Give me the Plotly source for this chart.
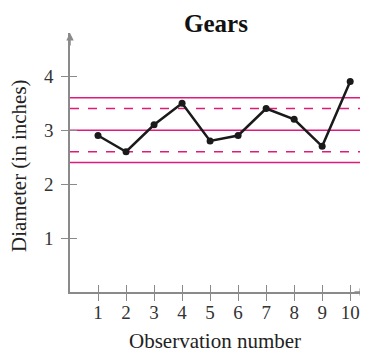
import plotly.graph_objects as go

# observations
obs = [1, 2, 3, 4, 5, 6, 7, 8, 9, 10]
diameter = [2.9, 2.6, 3.1, 3.5, 2.8, 2.9, 3.4, 3.2, 2.7, 3.9]

# reference lines (solid / dashed)
solid_levels = [3.6, 3.0, 2.4]
dashed_levels = [3.4, 2.6]
line_span = [0, 10.45]

y_ticks = [1, 2, 3, 4]

PINK = '#e0197d'
AXIS = '#8a8a8a'
SERIF = 'Liberation Serif, Times New Roman, serif'

# the page body has an 8px margin, so the figure is 8px smaller
OFF = 8
FW, FH = 368 - OFF, 353 - OFF
# plot area in page pixels
PL, PR, PT, PB = 70, 367, 33, 292
W, H = PR - PL, PB - PT


def px(x, y):
    # page pixel position -> paper coords
    return (x - PL) / W, (PB - y) / H


fig = go.Figure()

for lv in solid_levels:
    fig.add_trace(go.Scatter(x=line_span, y=[lv, lv], mode='lines',
                             line=dict(color=PINK, width=1.5), hoverinfo='skip'))
for lv in dashed_levels:
    fig.add_trace(go.Scatter(x=line_span, y=[lv, lv], mode='lines',
                             line=dict(color=PINK, width=1.5, dash='dash'), hoverinfo='skip'))

fig.add_trace(go.Scatter(x=obs, y=diameter, mode='lines+markers',
                         line=dict(color='#1a1a1a', width=2.5),
                         marker=dict(color='#1a1a1a', size=7)))

# invisible trace to bind the overlay axes
fig.add_trace(go.Scatter(x=[None], y=[None], xaxis='x2', yaxis='y2', showlegend=False))

axis_common = dict(showgrid=False, zeroline=False, linecolor=AXIS, linewidth=1.5,
                   tickcolor=AXIS, tickwidth=1.2, ticklen=7, automargin=False,
                   tickfont=dict(family=SERIF, size=19, color='#333'))
overlay_common = dict(showline=False, showticklabels=False, showgrid=False,
                      zeroline=False, tickcolor=AXIS, tickwidth=1.2, ticklen=7,
                      ticks='inside', automargin=False)

tx, ty = px(216, 8.5)
xx, xy = px(215, 341)
yx, yy = px(19, 166)
mid = dict(xref='paper', yref='paper', xanchor='center', yanchor='middle', showarrow=False)

fig.update_layout(
    width=FW, height=FH,
    margin=dict(l=PL - OFF, r=368 - PR, t=PT - OFF, b=353 - PB, autoexpand=False),
    paper_bgcolor='white', plot_bgcolor='white',
    showlegend=False,
    xaxis=dict(range=[0, 10.6], tickvals=obs, ticks='outside', showline=True,
               anchor='y', ticklabelstandoff=-5, **axis_common),
    yaxis=dict(range=[0, 4.8], tickvals=y_ticks, ticks='outside', showline=True,
               anchor='x', ticklabelstandoff=4, **axis_common),
    xaxis2=dict(range=[0, 10.6], tickvals=obs, overlaying='x', anchor='y2',
                side='bottom', **overlay_common),
    yaxis2=dict(range=[0, 4.8], tickvals=y_ticks, overlaying='y', anchor='x2',
                side='left', **overlay_common),
    annotations=[
        dict(text='<b>Gears</b>', x=tx, y=ty, xref='paper', yref='paper',
             xanchor='center', yanchor='top', showarrow=False, borderpad=0,
             font=dict(family=SERIF, size=25, color='#111')),
        dict(text='Observation number', x=xx, y=xy,
             font=dict(family=SERIF, size=21, color='#222'), **mid),
        dict(text='Diameter (in inches)', x=yx, y=yy, textangle=-90,
             font=dict(family=SERIF, size=21, color='#222'), **mid),
        dict(x=0, y=4.8, xref='x', yref='y', ax=0, ay=14, text='', showarrow=True,
             arrowhead=2, arrowsize=1, arrowwidth=1.5, arrowcolor=AXIS),
        dict(x=10.6, y=0, xref='x', yref='y', ax=-14, ay=0, text='', showarrow=True,
             arrowhead=2, arrowsize=1, arrowwidth=1.5, arrowcolor=AXIS),
    ],
)

fig.write_html("out.html")
